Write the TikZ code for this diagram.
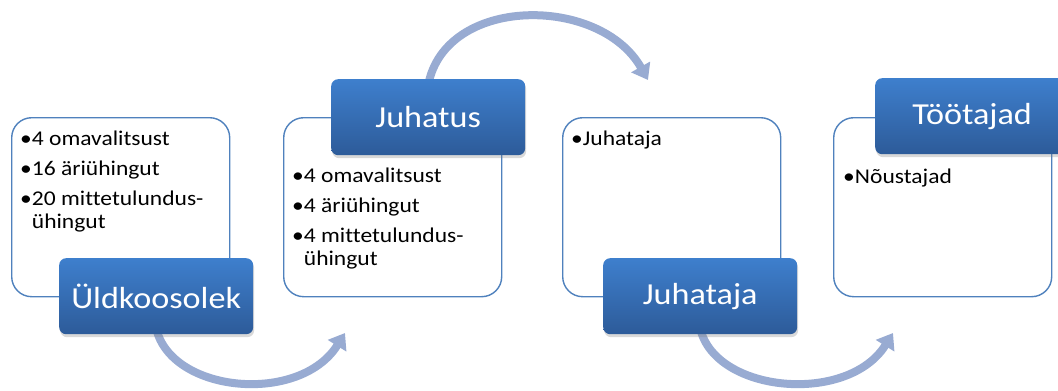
\documentclass[tikz,border=0pt]{standalone}
\usepackage{fontspec}
\setmainfont{Carlito}[FakeStretch=1.12, Ligatures=NoCommon]
\usetikzlibrary{arrows.meta,shadows,backgrounds}
\definecolor{boxline}{HTML}{4F81BD}
\definecolor{headtop}{HTML}{3E7FCD}
\definecolor{headbot}{HTML}{2D5B99}
\definecolor{arrowblue}{HTML}{98ABD2}
\tikzset{
  listbox/.style={draw=boxline, line width=1.4pt, fill=white, rounded corners=20pt,
    minimum width=218pt, minimum height=179pt, inner sep=0pt, anchor=north west},
  headbox/.style={rounded corners=7pt, top color=headtop, bottom color=headbot,
    minimum width=194pt, minimum height=76pt, inner sep=0pt, anchor=north west,
    text=white, font=\fontsize{30.5}{32}\selectfont,
    drop shadow={opacity=0.3, shadow xshift=1pt, shadow yshift=-3pt}},
  itemtext/.style={anchor=base west, inner sep=0pt, font=\fontsize{21}{23}\selectfont},
  cyclearrow/.style={draw=arrowblue, line width=8pt, -{Triangle[width=21pt,length=15pt]}}
}
\begin{document}
\begin{tikzpicture}[x=1pt,y=-1pt]
  \useasboundingbox (0,0) rectangle (1058,391);
  % end points of the arrows
  \coordinate (tip1) at (345,333);
  \coordinate (tip2) at (648,80);
  \coordinate (tip3) at (893,333);
  % white boxes
  \node[listbox] (list1) at (11,117) {};
  \node[listbox] (list2) at (283,117) {};
  \node[listbox] (list3) at (562,117) {};
  \node[listbox] (list4) at (833,117) {};
  % blue boxes
  \node[headbox] (head1) at (59,258) {Üldkoosolek};
  \node[headbox] (head2) at (331,79) {Juhatus};
  \node[headbox] (head3) at (603,258) {Juhataja};
  \node[headbox] (head4) at (875,78) {Töötajad};
  % arrows, behind the boxes
  \begin{scope}[on background layer]
    \draw[cyclearrow] ([yshift=6pt]head1.south) .. controls +(15,65) and +(-45,72) .. (tip1);
    \draw[cyclearrow] ([yshift=-6pt]head2.north) .. controls +(17,-90) and +(-48,-85) .. (tip2);
    \draw[cyclearrow] ([yshift=6pt]head3.south) .. controls +(15,65) and +(-45,72) .. (tip3);
  \end{scope}
  % items
  \node[itemtext] (u1) at (20,145) {•4 omavalitsust};
  \node[itemtext] (u2) at (20,175) {•16 äriühingut};
  \node[itemtext] (u3) at (20,205) {•20 mittetulundus-};
  \node[itemtext] (u4) at (20,228) {\phantom{•}ühingut};
  \node[itemtext] (j1) at (292,182) {•4 omavalitsust};
  \node[itemtext] (j2) at (292,212) {•4 äriühingut};
  \node[itemtext] (j3) at (292,242) {•4 mittetulundus-};
  \node[itemtext] (j4) at (292,265) {\phantom{•}ühingut};
  \node[itemtext] (h1) at (571,145) {•Juhataja};
  \node[itemtext] (t1) at (843,183) {•Nõustajad};
\end{tikzpicture}
\end{document}
